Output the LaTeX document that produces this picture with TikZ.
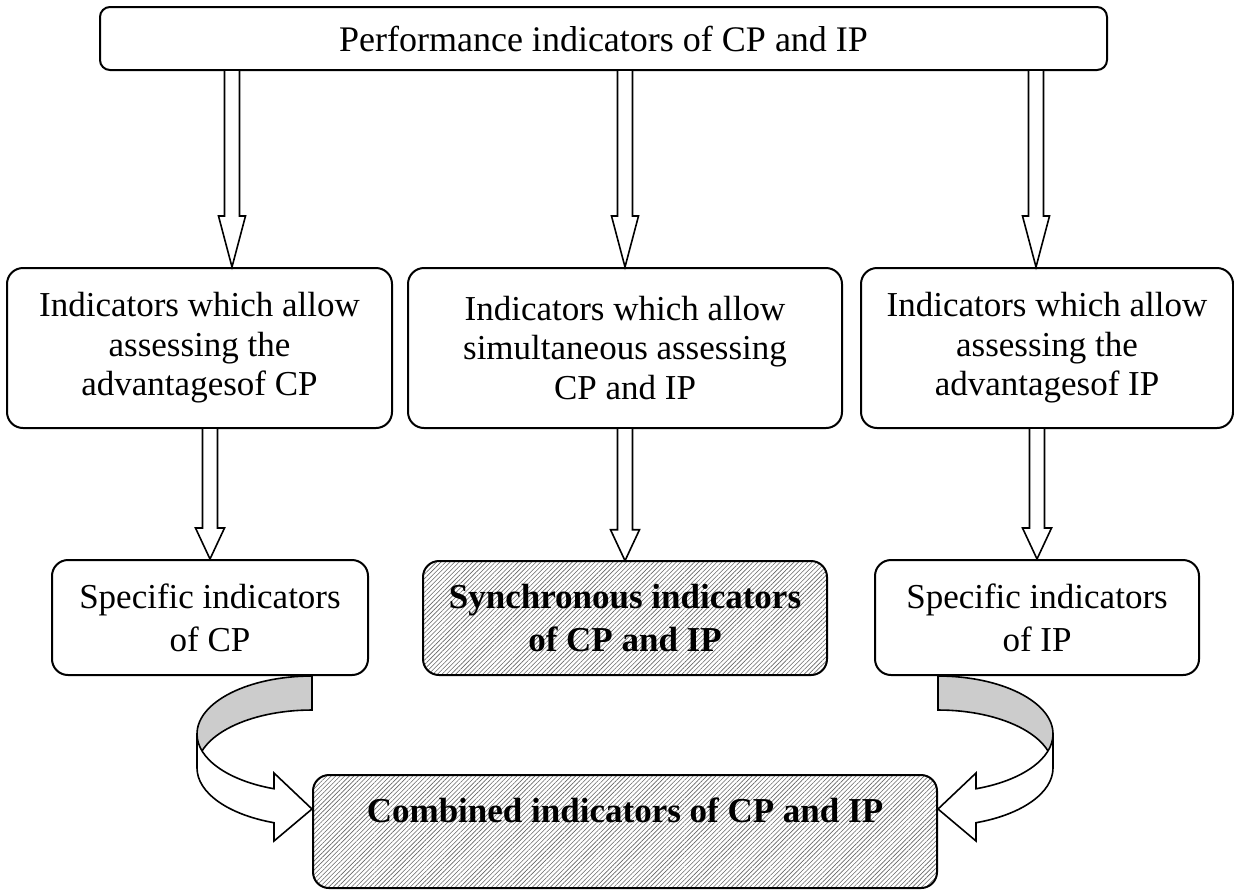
\documentclass[tikz,border=0pt]{standalone}
\usepackage{fontspec}
\setmainfont{Liberation Serif}
\usetikzlibrary{calc,patterns.meta}
\tikzset{
  box/.style={draw,line width=1pt,rounded corners=8pt,align=center,inner sep=0pt,
    font=\fontsize{17.5pt}{19.75pt}\selectfont},
  lowbox/.style={box,font=\fontsize{17.5pt}{21.5pt}\selectfont},
  hatched/.style={pattern={Lines[angle=45,distance=1.6pt,line width=0.3pt]},pattern color=black!60},
  arrowbody/.style={draw,fill=white,line width=0.8pt,line join=miter},
  pics/ribbon/.style={code={
    \filldraw[fill=black!20,line width=0.8pt] (0,0) arc[start angle=270,end angle=180,x radius=115,y radius=58]
      -- (-115,92) arc[start angle=180,end angle=270,x radius=115,y radius=58] -- cycle;
    \filldraw[fill=white,line width=0.8pt,line join=miter] (-115,58) arc[start angle=180,end angle=109.3,x radius=115,y radius=58]
      -- (-38,97) -- (0,133) -- (-38,165) -- (-38,146.7)
      arc[start angle=109.3,end angle=180,x radius=115,y radius=58] -- cycle;
  }}
}
% #1 start, #2 tip, #3 head length, #4 head half width
\newcommand{\hollowarrow}[4]{%
  \draw[arrowbody] ($(#1)+(-7.5,0)$) -- ($(#2)+(-7.5,-#3)$) -- ($(#2)+(-#4,-#3)$) -- (#2)
    -- ($(#2)+(#4,-#3)$) -- ($(#2)+(7.5,-#3)$) -- ($(#1)+(7.5,0)$);}
\begin{document}
\begin{tikzpicture}[x=0.5pt,y=-0.5pt]
\useasboundingbox (0,0) rectangle (1234,890);
\node[box,rounded corners=5pt,minimum width=503.5pt,minimum height=31.5pt,font=\fontsize{18pt}{20pt}\selectfont] (top) at (603.5,38.5) {Performance indicators of CP and IP};
\node[box,minimum width=192.5pt,minimum height=80pt] (m1) at (199.5,348) {Indicators which allow\\assessing the\\advantagesof CP};
\node[box,minimum width=217pt,minimum height=80pt] (m2) at (625,348) {Indicators which allow\\simultaneous assessing\\CP and IP};
\node[box,minimum width=186pt,minimum height=80pt] (m3) at (1047,348) {Indicators which allow\\assessing the\\advantagesof IP};
\node[lowbox,minimum width=158pt,minimum height=57.5pt] (s1) at (210,617.5) {Specific indicators\\of CP};
\node[lowbox,hatched,minimum width=202pt,minimum height=57pt] (s2) at (625,618) {\textbf{Synchronous indicators}\\\textbf{of CP and IP}};
\node[lowbox,minimum width=162pt,minimum height=57.5pt] (s3) at (1037,617.5) {Specific indicators\\of IP};
\node[lowbox,hatched,minimum width=312pt,minimum height=56.5pt] (comb) at (625,831.5) {\textbf{Combined indicators of CP and IP}\\\mbox{}};
\foreach \i/\x in {1/232,2/625,3/1036} {
  \coordinate (up\i) at (\x,0);
  \hollowarrow{top.south -| up\i}{m\i.north -| up\i}{51}{13.5}
}
\foreach \i/\x in {1/210,2/625,3/1037} {
  \coordinate (lo\i) at (\x,0);
  \hollowarrow{m\i.south -| lo\i}{s\i.north -| lo\i}{31}{14.5}
}
\pic at (comb.west |- s1.south) {ribbon};
\pic[xscale=-1] at (comb.east |- s3.south) {ribbon};
\end{tikzpicture}
\end{document}
